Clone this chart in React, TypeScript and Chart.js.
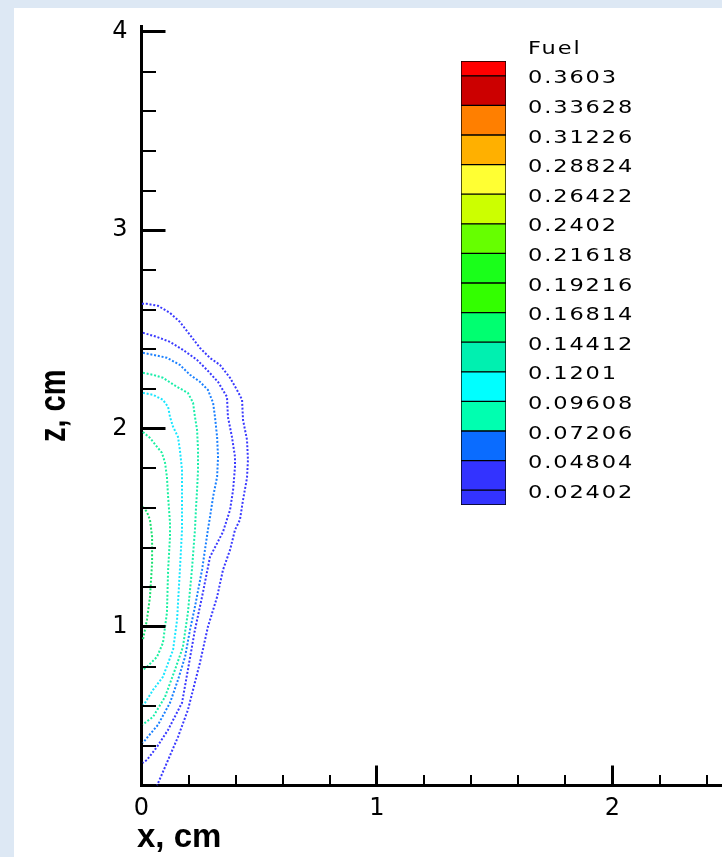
import React, { useEffect, useRef } from "react";
import { Chart, registerables } from "chart.js";

Chart.register(...registerables);

// ---------- axes ----------
const xMajorTicks = [0, 1, 2];
const xMinorTicks = [0.2, 0.4, 0.6, 0.8, 1.2, 1.4, 1.6, 1.8, 2.2, 2.4];
const yMajorTicks = [1, 2, 3, 4];
const yMinorTicks = [0.4, 0.6, 0.8, 1.2, 1.4, 1.6, 1.8, 2.2, 2.4, 2.6, 2.8, 3.2, 3.4, 3.6, 3.8];
const xRange = [0, 2.465];
const yRange = [0.2, 4.03];
const xTitle = "x, cm";
const yTitle = "z, cm";

// ---------- contour lines (x, z) ----------
const contour02402 = [
  [0.002, 2.629], [0.023, 2.629], [0.07, 2.619], [0.121, 2.583], [0.163, 2.538], [0.206, 2.472],
  [0.248, 2.407], [0.291, 2.356], [0.333, 2.321], [0.376, 2.256], [0.41, 2.185], [0.427, 2.145],
  [0.431, 2.044], [0.448, 1.943], [0.452, 1.842], [0.448, 1.751], [0.431, 1.64], [0.418, 1.54],
  [0.397, 1.489], [0.376, 1.388], [0.346, 1.287], [0.321, 1.151], [0.282, 1.0], [0.248, 0.818],
  [0.197, 0.581], [0.155, 0.445], [0.113, 0.329], [0.066, 0.2],
];
const contour04804 = [
  [0.006, 2.483], [0.066, 2.462], [0.121, 2.437], [0.176, 2.397], [0.236, 2.346], [0.278, 2.296],
  [0.325, 2.235], [0.363, 2.16], [0.367, 2.059], [0.384, 1.958], [0.397, 1.857], [0.397, 1.807],
  [0.389, 1.691], [0.376, 1.59], [0.346, 1.479], [0.291, 1.353], [0.257, 1.151], [0.227, 0.985],
  [0.197, 0.783], [0.172, 0.617], [0.113, 0.481], [0.066, 0.395], [0.023, 0.329], [0.006, 0.314],
];
const contour07206 = [
  [0.006, 2.382], [0.049, 2.372], [0.108, 2.357], [0.163, 2.321], [0.206, 2.271], [0.248, 2.236],
  [0.282, 2.195], [0.304, 2.13], [0.312, 2.059], [0.321, 1.958], [0.325, 1.857], [0.321, 1.756],
  [0.304, 1.656], [0.291, 1.555], [0.282, 1.489], [0.257, 1.287], [0.227, 1.101], [0.206, 0.985],
  [0.185, 0.849], [0.155, 0.733], [0.121, 0.617], [0.07, 0.506], [0.023, 0.44], [0.006, 0.415],
];
const contour09608 = [
  [0.006, 2.281], [0.049, 2.271], [0.091, 2.256], [0.151, 2.21], [0.197, 2.18], [0.219, 2.13],
  [0.227, 2.059], [0.236, 1.993], [0.24, 1.893], [0.24, 1.792], [0.236, 1.691], [0.231, 1.59],
  [0.227, 1.489], [0.214, 1.287], [0.197, 1.071], [0.176, 0.899], [0.142, 0.783], [0.1, 0.647],
  [0.049, 0.546], [0.015, 0.516], [0.006, 0.506],
];
const contour1201 = [
  [0.006, 2.18], [0.049, 2.17], [0.091, 2.145], [0.113, 2.109], [0.121, 2.059], [0.134, 2.009],
  [0.155, 1.958], [0.163, 1.893], [0.172, 1.792], [0.172, 1.691], [0.172, 1.59], [0.172, 1.489],
  [0.163, 1.287], [0.151, 1.035], [0.134, 0.884], [0.091, 0.748], [0.049, 0.682], [0.015, 0.617],
  [0.006, 0.607],
];
const contour14412 = [
  [0.006, 1.983], [0.036, 1.953], [0.066, 1.908], [0.087, 1.877], [0.1, 1.827], [0.108, 1.756],
  [0.113, 1.656], [0.121, 1.524], [0.121, 1.454], [0.113, 1.287], [0.108, 1.071], [0.091, 0.919],
  [0.066, 0.849], [0.023, 0.798], [0.006, 0.783],
];
const contour16814 = [
  [0.006, 1.605], [0.023, 1.58], [0.036, 1.54], [0.045, 1.454], [0.045, 1.323], [0.036, 1.151],
  [0.023, 1.035], [0.006, 0.934],
];
const contours = [contour02402, contour04804, contour07206, contour09608, contour1201, contour14412, contour16814];
const contourColors = ["#3a3aff", "#3a3aff", "#1a80ff", "#1aeeaa", "#1ae6ff", "#1af0a0", "#1ae070"];

// ---------- colour legend ----------
const legendTitle = "Fuel";
const fuelLevels = [
  "0.02402", "0.04804", "0.07206", "0.09608", "0.1201", "0.14412", "0.16814", "0.19216",
  "0.21618", "0.2402", "0.26422", "0.28824", "0.31226", "0.33628", "0.3603",
];
// bottom (below lowest level) to top (above highest level)
const cellColors = [
  "#3333ff", "#3333ff", "#0a6cff", "#00ffb0", "#00ffff", "#00f0b0", "#00ff70", "#33ff00",
  "#1aff1a", "#66ff00", "#ccff00", "#ffff33", "#ffb000", "#ff7f00", "#cc0000", "#ff0000",
];

const FONT = "'DejaVu Sans', 'Liberation Sans', sans-serif";

const zeroPad = (s: any) => {
  s.paddingTop = 0;
  s.paddingBottom = 0;
  s.paddingLeft = 0;
  s.paddingRight = 0;
};

const axisDecorPlugin = {
  id: "axisDecor",
  afterDraw(chart: any) {
    const { ctx, chartArea, scales } = chart;
    const xs = scales.x;
    const ys = scales.y;
    ctx.save();
    ctx.strokeStyle = "#000";
    ctx.lineCap = "butt";
    const drawX = (vals: number[], len: number, w: number) => {
      ctx.lineWidth = w;
      vals.forEach((v) => {
        const px = Math.round(xs.getPixelForValue(v) - w / 2) + w / 2;
        if (px > chartArea.right + 1) return;
        ctx.beginPath();
        ctx.moveTo(px, chartArea.bottom);
        ctx.lineTo(px, chartArea.bottom - len);
        ctx.stroke();
      });
    };
    const drawY = (vals: number[], len: number, w: number) => {
      ctx.lineWidth = w;
      vals.forEach((v) => {
        const py = Math.round(ys.getPixelForValue(v) - w / 2) + w / 2;
        ctx.beginPath();
        ctx.moveTo(chartArea.left, py);
        ctx.lineTo(chartArea.left + len, py);
        ctx.stroke();
      });
    };
    drawX(xMajorTicks, 20, 3);
    drawX(xMinorTicks, 10.5, 2);
    drawY(yMajorTicks, 24, 3);
    drawY(yMinorTicks, 14.5, 2);

    ctx.fillStyle = "#000";
    // x title
    ctx.font = `bold 33px 'Liberation Sans', sans-serif`;
    ctx.textAlign = "left";
    ctx.textBaseline = "alphabetic";
    ctx.fillText(xTitle, chartArea.left - 4.5, chartArea.bottom + 61.5);
    // z title (rotated)
    ctx.translate(51, (chartArea.top + chartArea.bottom) / 2);
    ctx.scale(1.3, 1);
    ctx.rotate(-Math.PI / 2);
    ctx.font = `bold 29px 'Liberation Sans', sans-serif`;
    ctx.textAlign = "center";
    ctx.fillText(yTitle, 0, 0);
    ctx.restore();
  },
};

const legendLabelPlugin = {
  id: "legendLabels",
  afterDraw(chart: any) {
    const { ctx, scales } = chart;
    const ys = scales.y;
    const x0 = ys.left + 22;
    const draw = (text: string, y: number) => {
      ctx.save();
      ctx.translate(x0, y);
      ctx.scale(1.25, 1);
      (ctx as any).letterSpacing = "1.5px";
      ctx.font = `18px ${FONT}`;
      ctx.fillStyle = "#000";
      ctx.textAlign = "left";
      ctx.textBaseline = "middle";
      ctx.fillText(text, 0, 0);
      ctx.restore();
    };
    fuelLevels.forEach((t, i) => draw(t, ys.getPixelForValue(i) + 3));
    draw(legendTitle, ys.getPixelForValue(fuelLevels.length) + 3);
  },
};

export default function App() {
  const mainRef = useRef<HTMLCanvasElement | null>(null);
  const barRef = useRef<HTMLCanvasElement | null>(null);

  useEffect(() => {
    const main = new Chart(mainRef.current as HTMLCanvasElement, {
      type: "scatter",
      data: {
        datasets: contours.map((c, i) => ({
          data: c.map(([x, y]) => ({ x, y })),
          showLine: true,
          borderColor: contourColors[i],
          backgroundColor: contourColors[i],
          borderWidth: 2,
          borderDash: [2, 1.8],
          pointRadius: 0,
          tension: 0,
        })),
      },
      options: {
        responsive: false,
        maintainAspectRatio: false,
        animation: false,
        devicePixelRatio: 1,
        layout: { padding: { top: 18, left: 0, right: 0, bottom: 0 } },
        plugins: { legend: { display: false }, tooltip: { enabled: false } },
        scales: {
          x: {
            type: "linear",
            min: xRange[0],
            max: xRange[1],
            afterBuildTicks: (s: any) => {
              s.ticks = xMajorTicks.map((v) => ({ value: v }));
            },
            afterFit: (s: any) => {
              s.height = 71.5;
              zeroPad(s);
            },
            grid: { display: false, drawTicks: false },
            border: { display: true, width: 3, color: "#000" },
            ticks: { padding: 9, color: "#000", font: { family: FONT, size: 24 }, maxRotation: 0, autoSkip: false },
          },
          y: {
            type: "linear",
            min: yRange[0],
            max: yRange[1],
            afterBuildTicks: (s: any) => {
              s.ticks = yMajorTicks.map((v) => ({ value: v }));
            },
            afterFit: (s: any) => {
              s.width = 127.5;
              zeroPad(s);
            },
            grid: { display: false, drawTicks: false },
            border: { display: true, width: 3, color: "#000" },
            ticks: { padding: 14, color: "#000", font: { family: FONT, size: 24 } },
          },
        },
      },
      plugins: [axisDecorPlugin],
    } as any);

    const n = fuelLevels.length;
    const bar = new Chart(barRef.current as HTMLCanvasElement, {
      type: "bar",
      data: {
        labels: [legendTitle],
        datasets: cellColors.map((col, i) => ({
          data: [[i === 0 ? -0.5 : i - 1, i === n ? n - 0.5 : i]],
          backgroundColor: col,
          borderColor: "#000",
          borderWidth: 1,
          borderSkipped: false,
          grouped: false,
          barPercentage: 1,
          categoryPercentage: 1,
        })),
      },
      options: {
        responsive: false,
        maintainAspectRatio: false,
        animation: false,
        devicePixelRatio: 1,
        layout: { padding: { top: 31, left: 21, right: 0, bottom: 15 } },
        plugins: { legend: { display: false }, tooltip: { enabled: false } },
        scales: {
          x: { display: false },
          y: {
            type: "linear",
            position: "right",
            min: -0.5,
            max: n - 0.5,
            afterBuildTicks: (s: any) => {
              s.ticks = fuelLevels.map((_, i) => ({ value: i }));
            },
            afterFit: (s: any) => {
              s.width = 194;
              zeroPad(s);
            },
            grid: { display: false, drawTicks: false },
            border: { display: false },
            ticks: { display: false },
          },
        },
      },
      plugins: [legendLabelPlugin],
    } as any);

    return () => {
      main.destroy();
      bar.destroy();
    };
  }, []);

  return (
    <div
      style={{
        position: "absolute",
        left: 0,
        top: 0,
        width: 722,
        height: 857,
        background: "#dde8f4",
        overflow: "hidden",
      }}
    >
      <canvas
        ref={mainRef}
        width={708}
        height={849}
        style={{ position: "absolute", left: 14, top: 8, width: 708, height: 849, background: "#ffffff" }}
      />
      <canvas
        ref={barRef}
        width={260}
        height={490}
        style={{ position: "absolute", left: 440, top: 30, width: 260, height: 490 }}
      />
    </div>
  );
}
